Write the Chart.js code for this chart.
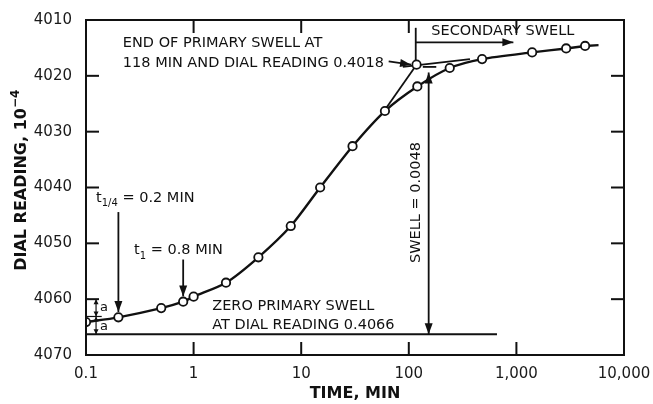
<!DOCTYPE html>
<html>
<head>
<meta charset="utf-8">
<script src="https://cdn.jsdelivr.net/npm/chart.js@4.4.1/dist/chart.umd.min.js"></script>
<style>
  html, body { margin: 0; padding: 0; background: #fff; }
  #wrap { width: 653px; height: 404px; }
</style>
</head>
<body>
<div id="wrap"><canvas id="c" width="653" height="404"></canvas></div>
<script>
// swell test readings (time in min, dial reading in 10^-4)
const times = [0.1, 0.2, 0.5, 0.8, 1, 2, 4, 8, 15, 30, 60, 120, 240, 480, 1400, 2900, 4350];
const readings = [4064.1, 4063.25, 4061.6, 4060.45, 4059.55, 4057.05, 4052.5, 4046.9, 4040.0, 4032.6, 4026.3, 4021.9, 4018.6, 4017.0, 4015.8, 4015.1, 4014.65];
const tailTimes = [4350, 5800];
const tailReadings = [4014.65, 4014.5];

// construction lines
const primaryTangentTimes = [57, 118];
const primaryTangentReadings = [4026.7, 4018.0];
const secondaryTangentTimes = [88, 370];
const secondaryTangentReadings = [4018.4, 4017.0];
const endPrimaryTime = [118];
const endPrimaryReading = [4018.0];
const zeroLineTimes = [0.1, 660];
const zeroLineReadings = [4066.3, 4066.3];

const xTicks = [0.1, 1, 10, 100, 1000, 10000];
const xTickLabels = ["0.1", "1", "10", "100", "1,000", "10,000"];
const yTicks = [4010, 4020, 4030, 4040, 4050, 4060, 4070];

const pts = (xs, ys) => xs.map((v, i) => ({ x: v, y: ys[i] }));
const INK = "#111";
const NOTE = 14.5;

function arrowHead(ctx, x1, y1, x2, y2, len = 11, w = 4) {
    const ang = Math.atan2(y2 - y1, x2 - x1);
    ctx.beginPath();
    ctx.moveTo(x2, y2);
    ctx.lineTo(x2 - len * Math.cos(ang) + w * Math.sin(ang), y2 - len * Math.sin(ang) - w * Math.cos(ang));
    ctx.lineTo(x2 - len * Math.cos(ang) - w * Math.sin(ang), y2 - len * Math.sin(ang) + w * Math.cos(ang));
    ctx.closePath();
    ctx.fill();
}

function line(ctx, x1, y1, x2, y2) {
    ctx.beginPath();
    ctx.moveTo(x1, y1);
    ctx.lineTo(x2, y2);
    ctx.stroke();
}

// text with subscript / superscript pieces: [text, shift] shift: 0 normal, 1 sub, -1 sup
function rich(ctx, parts, x, y, size, bold) {
    let cx = x;
    for (const [t, s] of parts) {
        const fs = s ? Math.round(size * 0.72) : size;
        ctx.font = (bold ? "bold " : "") + fs + "px 'DejaVu Sans'";
        ctx.fillText(t, cx, y + s * size * 0.38);
        cx += ctx.measureText(t).width;
    }
}

const frame = {
    id: "frame",
    afterDraw(chart) {
        const { ctx, chartArea: a, scales: { x, y } } = chart;
        ctx.save();
        ctx.strokeStyle = INK;
        ctx.fillStyle = INK;
        ctx.lineWidth = 2;
        ctx.strokeRect(a.left, a.top, a.right - a.left, a.bottom - a.top);
        // inward ticks
        yTicks.slice(1, -1).forEach(v => {
            const py = y.getPixelForValue(v);
            line(ctx, a.left, py, a.left + 13, py);
            line(ctx, a.right, py, a.right - 13, py);
        });
        xTicks.slice(1, -1).forEach(v => {
            const px = x.getPixelForValue(v);
            line(ctx, px, a.top, px, a.top + 13);
            line(ctx, px, a.bottom, px, a.bottom - 13);
        });

        // axis titles
        ctx.textBaseline = "middle";
        ctx.font = "bold 16px 'DejaVu Sans'";
        ctx.textAlign = "center";
        ctx.fillText("TIME, MIN", (a.left + a.right) / 2, 394);

        ctx.translate(22, 181);
        ctx.rotate(-Math.PI / 2);
        ctx.textAlign = "left";
        ctx.font = "bold 16px 'DejaVu Sans'";
        const w1 = ctx.measureText("DIAL READING, 10").width;
        ctx.font = "bold 11px 'DejaVu Sans'";
        const w2 = ctx.measureText("\u22124").width;
        rich(ctx, [["DIAL READING, 10", 0], ["\u22124", -1]], -(w1 + w2) / 2, 0, 16, true);
        ctx.restore();
    }
};

const notes = {
    id: "notes",
    afterDatasetsDraw(chart) {
        const { ctx, scales: { x, y } } = chart;
        const X = v => x.getPixelForValue(v), Y = v => y.getPixelForValue(v);
        ctx.save();
        ctx.strokeStyle = INK;
        ctx.fillStyle = INK;
        ctx.lineWidth = 1.8;
        ctx.textBaseline = "middle";
        ctx.textAlign = "left";

        // end of primary swell
        rich(ctx, [["END OF PRIMARY SWELL AT", 0]], X(0.22), Y(4014.1), NOTE);
        rich(ctx, [["118 MIN AND DIAL READING 0.4018", 0]], X(0.22), Y(4017.7), NOTE);
        line(ctx, X(65), Y(4017.4), X(105), Y(4018.0));
        arrowHead(ctx, X(65), Y(4017.4), X(105), Y(4018.0));

        // secondary swell
        line(ctx, X(116), Y(4011.4), X(116), Y(4017.2));
        line(ctx, X(116), Y(4014.0), X(937), Y(4014.0));
        arrowHead(ctx, X(116), Y(4014.0), X(937), Y(4014.0));
        rich(ctx, [["SECONDARY SWELL", 0]], X(162), Y(4012.1), NOTE);

        // swell amount
        line(ctx, X(153), Y(4019.4), X(153), Y(4066.3));
        arrowHead(ctx, X(153), Y(4066.3), X(153), Y(4019.4));
        arrowHead(ctx, X(153), Y(4019.4), X(153), Y(4066.3));
        line(ctx, X(135), Y(4018.4), X(180), Y(4018.4));
        ctx.save();
        ctx.translate(X(116), Y(4042.7));
        ctx.rotate(-Math.PI / 2);
        ctx.textAlign = "center";
        ctx.font = NOTE + "px 'DejaVu Sans'";
        ctx.fillText("SWELL = 0.0048", 0, 0);
        ctx.restore();

        // zero primary swell
        rich(ctx, [["ZERO PRIMARY SWELL", 0]], X(1.49), Y(4061.2), NOTE);
        rich(ctx, [["AT DIAL READING 0.4066", 0]], X(1.49), Y(4064.6), NOTE);

        // t 1/4
        rich(ctx, [["t", 0], ["1/4", 1], [" = 0.2 MIN", 0]], X(0.124), Y(4041.9), NOTE);
        line(ctx, X(0.2), Y(4044.4), X(0.2), Y(4062.3));
        arrowHead(ctx, X(0.2), Y(4044.4), X(0.2), Y(4062.3));

        // t 1
        rich(ctx, [["t", 0], ["1", 1], [" = 0.8 MIN", 0]], X(0.28), Y(4051.3), NOTE);
        line(ctx, X(0.8), Y(4052.9), X(0.8), Y(4059.5));
        arrowHead(ctx, X(0.8), Y(4052.9), X(0.8), Y(4059.5));

        // "a" construction
        ctx.lineWidth = 1.2;
        const ax = X(0.124);
        line(ctx, X(0.1), Y(4063.1), X(0.14), Y(4063.1));
        line(ctx, ax, Y(4060.0), ax, Y(4066.3));
        arrowHead(ctx, ax, Y(4062), ax, Y(4060.0), 5, 2.5);
        arrowHead(ctx, ax, Y(4061), ax, Y(4063.1), 5, 2.5);
        arrowHead(ctx, ax, Y(4065), ax, Y(4063.1), 5, 2.5);
        arrowHead(ctx, ax, Y(4064), ax, Y(4066.3), 5, 2.5);
        rich(ctx, [["a", 0]], ax + 4, Y(4061.5), 13);
        rich(ctx, [["a", 0]], ax + 4, Y(4065.0), 13);
        ctx.restore();
    }
};

const marker = { pointStyle: "circle", pointRadius: 4.2, pointBackgroundColor: "#fff", pointBorderColor: INK, pointBorderWidth: 1.8 };
const plain = { pointRadius: 0, borderColor: INK, borderWidth: 1.8, tension: 0 };

new Chart(document.getElementById("c"), {
    type: "line",
    data: {
        datasets: [
            Object.assign({ label: "Dial reading", data: pts(times, readings), borderColor: INK, borderWidth: 2.4, tension: 0.25 }, marker),
            Object.assign({ label: "End of primary swell", data: pts(endPrimaryTime, endPrimaryReading), showLine: false }, marker),
            Object.assign({ label: "tail", data: pts(tailTimes, tailReadings) }, plain, { borderWidth: 2.4 }),
            Object.assign({ label: "Primary tangent", data: pts(primaryTangentTimes, primaryTangentReadings) }, plain),
            Object.assign({ label: "Secondary tangent", data: pts(secondaryTangentTimes, secondaryTangentReadings) }, plain),
            Object.assign({ label: "Zero primary swell", data: pts(zeroLineTimes, zeroLineReadings) }, plain, { borderWidth: 2 })
        ]
    },
    options: {
        responsive: false,
        animation: false,
        devicePixelRatio: 1,
        layout: { padding: { top: 20, right: 29, left: 0, bottom: 0 } },
        plugins: { legend: { display: false }, tooltip: { enabled: false } },
        scales: {
            x: {
                type: "logarithmic",
                min: 0.1,
                max: 10000,
                afterBuildTicks: s => { s.ticks = xTicks.map(v => ({ value: v })); },
                afterFit: s => { s.height = 49; s.paddingLeft = 0; s.paddingRight = 0; },
                grid: { display: false, drawTicks: false },
                border: { display: false },
                ticks: {
                    padding: 10,
                    color: "#1a1a1a",
                    font: { family: "'DejaVu Sans'", size: 15 },
                    maxRotation: 0,
                    autoSkip: false,
                    callback: (v, i) => xTickLabels[i]
                }
            },
            y: {
                type: "linear",
                reverse: true,
                min: 4010,
                max: 4070,
                afterBuildTicks: s => { s.ticks = yTicks.map(v => ({ value: v })); },
                afterFit: s => { s.width = 86; s.paddingTop = 0; s.paddingBottom = 0; },
                grid: { display: false, drawTicks: false },
                border: { display: false },
                ticks: {
                    padding: 14,
                    color: "#1a1a1a",
                    font: { family: "'DejaVu Sans'", size: 15 },
                    callback: v => String(v)
                }
            }
        }
    },
    plugins: [frame, notes]
});
</script>
</body>
</html>
